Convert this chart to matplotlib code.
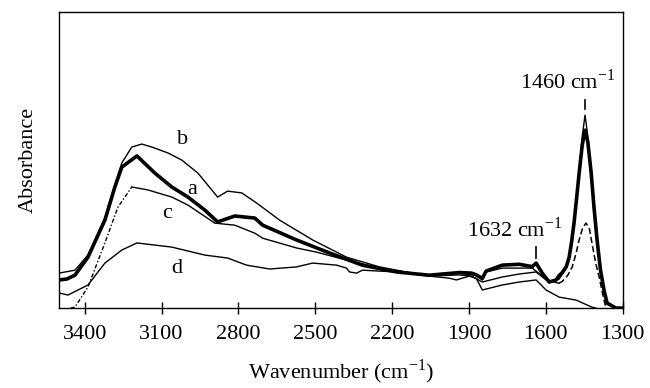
import numpy as np
import matplotlib
matplotlib.use("Agg")
import matplotlib.pyplot as plt

# IR spectra (wavenumber in cm-1, absorbance in a.u.)
wn_a = [3500, 3470, 3438, 3387, 3321, 3282, 3255, 3196, 3126, 3060, 2997, 2931, 2881,
        2814, 2736, 2705, 2573, 2444, 2316, 2183, 2055, 1938, 1890, 1871, 1848, 1833,
        1770, 1704, 1653, 1638, 1614, 1587, 1560, 1548, 1536, 1520, 1509, 1500, 1490,
        1480, 1470, 1458, 1447, 1436, 1423, 1412, 1400, 1387, 1373, 1361, 1326, 1306]
abs_a = [0.095, 0.098, 0.111, 0.172, 0.297, 0.409, 0.476, 0.514, 0.456, 0.409, 0.375,
         0.331, 0.291, 0.311, 0.304, 0.280, 0.230, 0.186, 0.145, 0.122, 0.111, 0.120,
         0.118, 0.112, 0.100, 0.125, 0.145, 0.148, 0.140, 0.152, 0.118, 0.088, 0.095,
         0.110, 0.120, 0.140, 0.172, 0.220, 0.287, 0.370, 0.456, 0.550, 0.601, 0.560,
         0.456, 0.340, 0.230, 0.130, 0.061, 0.017, 0.0, 0.0]

wn_b = [3500, 3438, 3387, 3321, 3282, 3255, 3216, 3177, 3138, 3075, 3021, 2958, 2881,
        2842, 2787, 2729, 2639, 2510, 2378, 2249, 2121, 2055, 1938, 1871, 1848, 1833,
        1770, 1704, 1653, 1614, 1575, 1548, 1520, 1509, 1500, 1490, 1480, 1470, 1458,
        1447, 1436, 1423, 1412, 1400, 1387, 1373, 1361, 1326, 1306]
abs_b = [0.118, 0.128, 0.179, 0.304, 0.416, 0.490, 0.544, 0.554, 0.544, 0.524, 0.500,
         0.456, 0.375, 0.395, 0.389, 0.355, 0.297, 0.230, 0.172, 0.139, 0.118, 0.111,
         0.118, 0.110, 0.095, 0.122, 0.135, 0.135, 0.135, 0.108, 0.088, 0.098, 0.135,
         0.168, 0.215, 0.285, 0.370, 0.460, 0.580, 0.652, 0.580, 0.465, 0.345, 0.230,
         0.130, 0.060, 0.015, 0.0, 0.0]

wn_c = [3455, 3438, 3387, 3321, 3270, 3216, 3153, 3060, 2997, 2892, 2814, 2736, 2705,
        2573, 2495, 2378, 2249, 2055, 1938, 1890, 1848, 1770, 1704, 1638, 1599, 1560,
        1548, 1536, 1515, 1497, 1482, 1470, 1456, 1443, 1430, 1420, 1405, 1392, 1380,
        1373, 1365]
abs_c = [0.0, 0.003, 0.071, 0.220, 0.341, 0.409, 0.399, 0.375, 0.348, 0.287, 0.280,
         0.253, 0.236, 0.203, 0.189, 0.162, 0.135, 0.108, 0.112, 0.108, 0.088, 0.105,
         0.115, 0.122, 0.095, 0.086, 0.084, 0.090, 0.110, 0.139, 0.185, 0.230, 0.272,
         0.287, 0.268, 0.220, 0.150, 0.105, 0.055, 0.027, 0.0]

wn_d = [3500, 3465, 3387, 3321, 3255, 3196, 3060, 2931, 2842, 2768, 2678, 2573, 2510,
        2417, 2378, 2366, 2339, 2316, 2183, 2055, 1977, 1949, 1926, 1899, 1871, 1848,
        1770, 1704, 1638, 1599, 1548, 1482, 1420, 1404]
abs_d = [0.051, 0.044, 0.078, 0.152, 0.196, 0.220, 0.206, 0.179, 0.169, 0.145, 0.132,
         0.139, 0.152, 0.145, 0.135, 0.122, 0.118, 0.128, 0.122, 0.108, 0.101, 0.095,
         0.101, 0.108, 0.100, 0.061, 0.078, 0.088, 0.095, 0.061, 0.037, 0.027, 0.003, 0.0]

xticks = [3400, 3100, 2800, 2500, 2200, 1900, 1600, 1300]

plt.rcParams['font.family'] = ['Liberation Serif', 'DejaVu Serif']
plt.rcParams['mathtext.fontset'] = 'stix'

fig = plt.figure(figsize=(6.5, 3.88), dpi=100)
ax = fig.add_axes([0.0908, 0.206, 0.8672, 0.763])

ax.plot(wn_d, abs_d, color='black', lw=1.0)
wn_c_arr = np.array(wn_c)
abs_c_arr = np.array(abs_c)
mid = (wn_c_arr <= 3220) & (wn_c_arr >= 1548)
left = wn_c_arr >= 3216
right = wn_c_arr <= 1548
ax.plot(wn_c_arr[mid], abs_c_arr[mid], color='black', lw=1.0)
ax.plot(wn_c_arr[left], abs_c_arr[left], color='black', lw=1.0, dashes=(3, 1.5, 1, 1.5))
ax.plot(wn_c_arr[right], abs_c_arr[right], color='black', lw=1.1, dashes=(4, 2))
ax.plot(wn_b, abs_b, color='black', lw=1.0)
ax.plot(wn_a, abs_a, color='black', lw=2.6)

ax.set_xlim(3500, 1300)
ax.set_ylim(0, 1.0)
ax.set_xticks(xticks)
ax.set_yticks([])
ax.tick_params(axis='x', direction='inout', length=8, width=1, pad=8, labelsize=16)
for s in ax.spines.values():
    s.set_linewidth(1.0)

fs = 16
ax.text(3017, 0.568, 'b', fontsize=fs, ha='center', va='center')
ax.text(2982, 0.399, 'a', fontsize=fs, ha='center', va='center')
ax.text(3079, 0.321, 'c', fontsize=fs, ha='center', va='center')
ax.text(3040, 0.135, 'd', fontsize=fs, ha='center', va='center')

# peak markers
pk_b = max(abs_b)
wn_pk = wn_b[abs_b.index(pk_b)]
ax.plot([wn_pk, wn_pk], [pk_b + 0.02, pk_b + 0.05], color='black', lw=1.2)
ax.text(1513, pk_b + 0.09, r'1460 cm$^{\mathregular{-1}}$', fontsize=fs,
        ha='center', va='baseline')
ax.plot([1638, 1638], [0.169, 0.206], color='black', lw=1.2)
ax.text(1720, 0.24, r'1632 cm$^{\mathregular{-1}}$', fontsize=fs,
        ha='center', va='baseline')

ax.set_xlabel(r'Wavenumber (cm$^{\mathregular{-1}}$)', fontsize=16, labelpad=10)
ax.set_ylabel('Absorbance', fontsize=16, labelpad=15)

fig.savefig('out.png', dpi=100)
